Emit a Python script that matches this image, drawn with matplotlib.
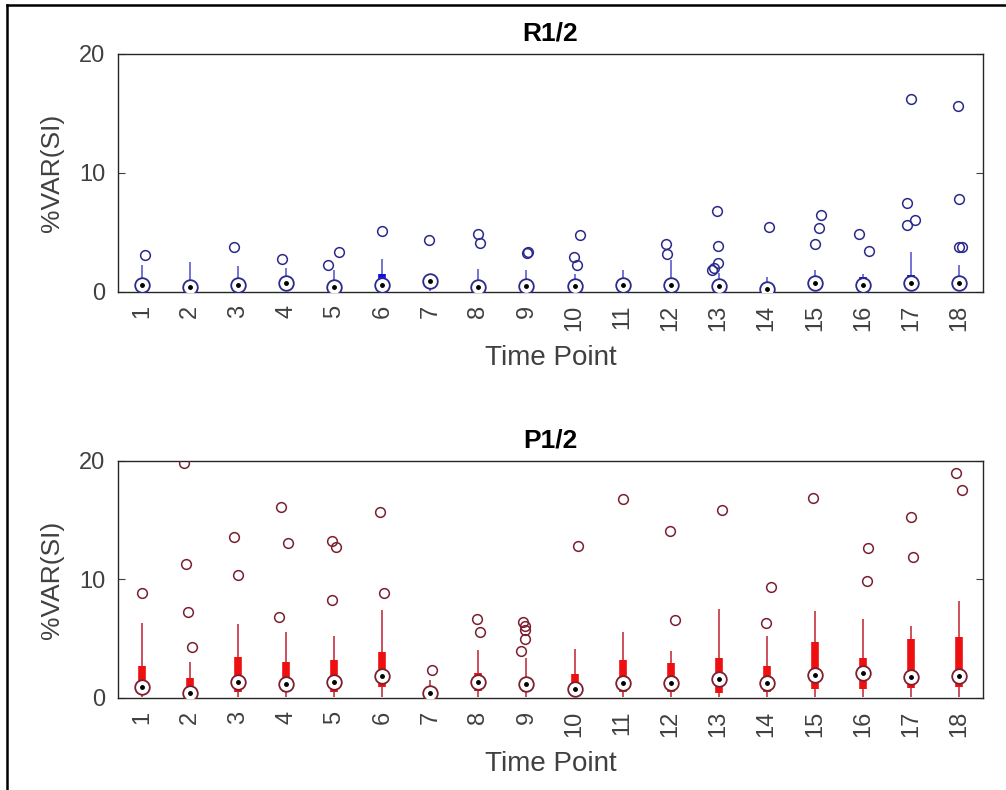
import matplotlib
matplotlib.use("Agg")
from matplotlib import pyplot as plt
from matplotlib.lines import Line2D

plt.rcParams['font.family'] = ['Liberation Sans', 'DejaVu Sans']

groups = list(range(1, 19))
tick_labels = [str(g) for g in groups]

# R1/2 (top) - compact boxplot stats
r_med = [0.6, 0.4, 0.55, 0.73, 0.4, 0.6, 0.92, 0.4, 0.5, 0.53, 0.6, 0.55, 0.5, 0.25, 0.73, 0.55, 0.73, 0.73]
r_q1 = [0.2, 0.1, 0.2, 0.3, 0.1, 0.3, 0.5, 0.1, 0.2, 0.2, 0.2, 0.2, 0.2, 0.05, 0.3, 0.2, 0.3, 0.3]
r_q3 = [0.9, 0.8, 0.9, 1.0, 0.8, 1.5, 1.1, 0.8, 0.8, 0.9, 0.9, 0.9, 0.9, 0.6, 1.0, 1.3, 1.4, 1.0]
r_whishi = [2.3, 2.5, 2.2, 2.0, 1.85, 2.8, 1.3, 1.9, 1.85, 1.5, 1.85, 2.7, 1.6, 1.3, 1.85, 1.55, 3.4, 2.27]
r_whislo = [0.05] * 18
# outliers per group: (value, horizontal jitter seen in the picture)
r_out = [
    [(3.1, 0.06)],
    [],
    [(3.75, -0.08)],
    [(2.75, -0.08)],
    [(2.27, -0.12), (3.4, 0.09)],
    [(5.1, 0.0)],
    [(4.4, -0.02)],
    [(4.9, 0.0), (4.15, 0.04)],
    [(3.3, 0.01), (3.35, 0.04)],
    [(4.8, 0.12), (2.97, -0.02), (2.27, 0.06)],
    [],
    [(4.0, -0.1), (3.17, -0.07)],
    [(6.83, -0.03), (3.87, -0.01), (2.4, -0.01), (2.0, -0.1), (1.85, -0.13)],
    [(5.45, 0.05)],
    [(6.45, 0.12), (5.35, 0.08), (4.0, 0.0)],
    [(4.85, -0.07), (3.47, 0.12)],
    [(16.2, 0.01), (7.5, -0.08), (6.05, 0.08), (5.6, -0.09)],
    [(15.6, -0.01), (7.8, 0.01), (3.8, 0.06), (3.75, 0.0)],
]

# P1/2 (bottom)
p_med = [0.95, 0.4, 1.38, 1.18, 1.38, 1.86, 0.45, 1.38, 1.18, 0.73, 1.24, 1.3, 1.58, 1.24, 1.91, 2.08, 1.75, 1.86]
p_q1 = [0.4, 0.1, 0.5, 0.5, 0.5, 0.95, 0.2, 0.6, 0.5, 0.3, 0.5, 0.5, 0.4, 0.5, 0.73, 0.73, 0.82, 0.95]
p_q3 = [2.7, 1.7, 3.43, 3.0, 3.2, 3.85, 0.9, 2.1, 1.6, 2.0, 3.2, 2.98, 3.4, 2.73, 4.75, 3.4, 4.95, 5.12]
p_whishi = [6.3, 3.07, 6.25, 5.6, 5.23, 7.43, 1.5, 4.05, 3.35, 4.1, 5.6, 3.97, 7.48, 5.23, 7.37, 6.64, 6.08, 8.18]
p_whislo = [0.05] * 18
p_out = [
    [(8.83, 0.0)],
    [(19.8, -0.12), (11.3, -0.08), (7.28, -0.04), (4.27, 0.04)],
    [(13.55, -0.08), (10.4, 0.0)],
    [(16.1, -0.1), (13.05, 0.04), (6.8, -0.14)],
    [(13.27, -0.05), (12.77, 0.04), (8.27, -0.04)],
    [(15.7, -0.04), (8.9, 0.03)],
    [(2.4, 0.04)],
    [(6.64, -0.03), (5.6, 0.04)],
    [(6.45, -0.08), (6.05, -0.03), (5.7, -0.02), (4.95, -0.03), (4.0, -0.12)],
    [(12.85, 0.08)],
    [(16.77, 0.0)],
    [(14.1, -0.02), (6.58, 0.09)],
    [(15.86, 0.06)],
    [(9.34, 0.08), (6.36, -0.02)],
    [(16.9, -0.03)],
    [(12.63, 0.11), (9.87, 0.09)],
    [(15.25, 0.0), (11.92, 0.05)],
    [(18.96, -0.07), (17.55, 0.07)],
]

txt = '#404040'


def compact_box(ax, med, q1, q3, lo, hi, outl, box_c, whisk_c, edge_c):
    ax.vlines(groups, lo, hi, color=whisk_c, linewidth=1.1, zorder=2)
    ax.vlines(groups, q1, q3, color=box_c, linewidth=5.5, zorder=3)
    ox = [g + d for g, o in zip(groups, outl) for v, d in o]
    oy = [v for o in outl for v, d in o]
    ax.plot(ox, oy, 'o', ms=7, mfc='none', mec=edge_c, mew=1.1, zorder=4)
    ax.plot(groups, med, 'o', ms=10.5, mfc='white', mec=edge_c, mew=1.3, zorder=5)
    ax.plot(groups, med, '.', ms=5, color='black', zorder=6)


def style(ax, title):
    ax.set_xlim(0.5, 18.5)
    ax.set_ylim(0, 20)
    ax.set_yticks([0, 10, 20])
    ax.set_xticks(groups)
    ax.set_xticklabels(tick_labels, rotation=90)
    ax.tick_params(axis='y', direction='in', length=5, width=0.8, left=True, right=True,
                   labelsize=17, colors=txt, pad=9)
    ax.tick_params(axis='x', length=0, labelsize=17, colors=txt, pad=9)
    for s in ax.spines.values():
        s.set_color('#262626')
        s.set_linewidth(1.0)
    ax.set_title(title, fontsize=19, fontweight='bold', color='black', pad=10)
    ax.set_xlabel("Time Point", fontsize=20, color=txt, labelpad=10)
    ax.set_ylabel("%VAR(SI)", fontsize=19, color=txt, labelpad=11)


fig = plt.figure(figsize=(10.06, 7.9), dpi=100)
ax1 = fig.add_axes([0.1173, 0.6304, 0.8598, 0.3013])
ax2 = fig.add_axes([0.1173, 0.1165, 0.8598, 0.3000])

compact_box(ax1, r_med, r_q1, r_q3, r_whislo, r_whishi, r_out,
            '#1010e0', '#5050c8', '#2a2a8a')
style(ax1, "R1/2")

compact_box(ax2, p_med, p_q1, p_q3, p_whislo, p_whishi, p_out,
            '#ee1010', '#c02030', '#7a2030')
style(ax2, "P1/2")

# image border (left and top only, as cropped)
fig.add_artist(Line2D([7 / 1006, 7 / 1006], [0, 1 - 5 / 790], color='black', lw=1.8,
                      transform=fig.transFigure))
fig.add_artist(Line2D([7 / 1006, 1], [1 - 5 / 790, 1 - 5 / 790], color='black', lw=1.8,
                      transform=fig.transFigure))

fig.savefig("out.png", dpi=100)
